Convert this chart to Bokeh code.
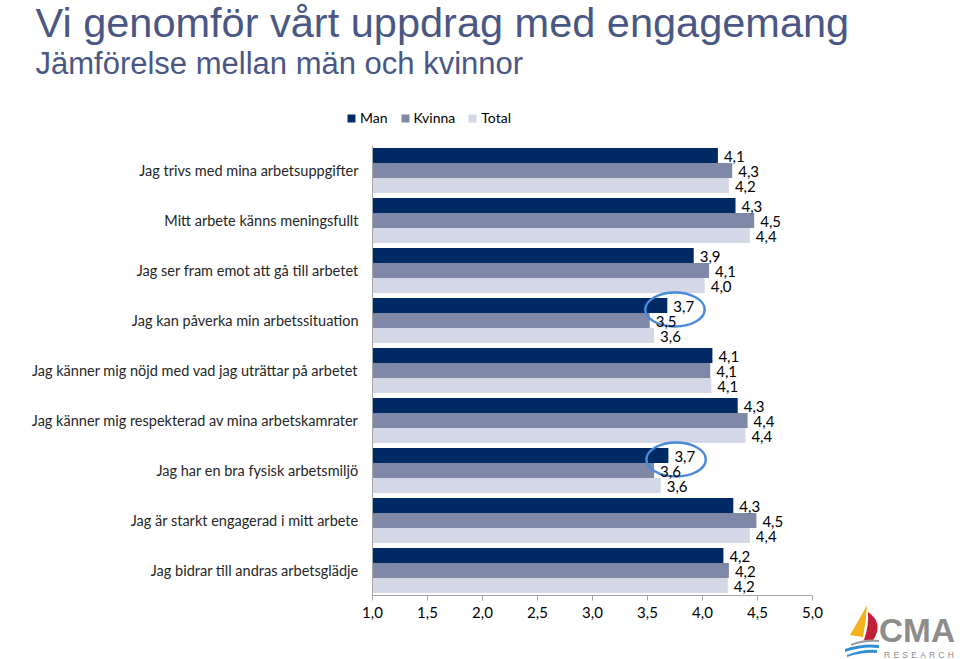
from bokeh.plotting import figure
from bokeh.layouts import column, row
from bokeh.models import (FactorRange, Range1d, FixedTicker, Legend, LegendItem, Label,
                          ColumnDataSource, Div)
from bokeh.transform import dodge
from bokeh.core.properties import value
from bokeh.embed import file_html
from bokeh.resources import INLINE

# ---------------- data ----------------
categories = [
    "Jag trivs med mina arbetsuppgifter",
    "Mitt arbete känns meningsfullt",
    "Jag ser fram emot att gå till arbetet",
    "Jag kan påverka min arbetssituation",
    "Jag känner mig nöjd med vad jag uträttar på arbetet",
    "Jag känner mig respekterad av mina arbetskamrater",
    "Jag har en bra fysisk arbetsmiljö",
    "Jag är starkt engagerad i mitt arbete",
    "Jag bidrar till andras arbetsglädje",
]
man = [4.14, 4.30, 3.92, 3.68, 4.09, 4.32, 3.69, 4.28, 4.19]
kvinna = [4.27, 4.47, 4.06, 3.52, 4.07, 4.41, 3.56, 4.49, 4.24]
total = [4.24, 4.43, 4.02, 3.56, 4.08, 4.39, 3.62, 4.43, 4.23]
series_names = ["Man", "Kvinna", "Total"]
highlighted = ["Jag kan påverka min arbetssituation", "Jag har en bra fysisk arbetsmiljö"]
x_ticks = [1.0, 1.5, 2.0, 2.5, 3.0, 3.5, 4.0, 4.5, 5.0]

title_text = "Vi genomför vårt uppdrag med engagemang"
subtitle_text = "Jämförelse mellan män och kvinnor"
logo_name = "CMA"
logo_sub = "RESEARCH"

# ---------------- style ----------------
colors = ["#002a64", "#7f88a6", "#d4d8e6"]
offsets = [0.3, 0.0, -0.3]
FONT = "Lato"
TITLE_COLOR = "#4a5785"


def fmt(v):
    return ("%.1f" % v).replace(".", ",")


def bare(fig, bg="white"):
    fig.outline_line_color = None
    fig.min_border = 0
    fig.background_fill_color = bg
    fig.border_fill_color = bg
    fig.xgrid.visible = False
    fig.ygrid.visible = False
    return fig


# ---------------- header (title, subtitle, legend) ----------------
head = bare(figure(width=960, height=135, output_backend="svg", toolbar_location=None,
                   title=None, x_range=Range1d(0, 960), y_range=Range1d(0, 135),
                   x_axis_type=None, y_axis_type=None))
head.add_layout(Label(x=35, y=135 - 22, text=title_text, text_font="Liberation Sans",
                      text_font_size="41.5px", text_color=TITLE_COLOR,
                      text_baseline="middle"))
head.add_layout(Label(x=35, y=135 - 63, text=subtitle_text, text_font="Liberation Sans",
                      text_font_size="31px", text_color=TITLE_COLOR,
                      text_baseline="middle"))
leg_items = []
for name, col in zip(series_names, colors):
    r = head.rect(x=[-500], y=[-500], width=1, height=1, fill_color=col, line_color=None)
    leg_items.append(LegendItem(label=name, renderers=[r]))
legend = Legend(items=leg_items, orientation="horizontal", location=(346, 9),
                label_text_font=FONT, label_text_font_size="14px", label_text_color="#000000",
                glyph_width=10, glyph_height=10, label_standoff=4, spacing=12,
                padding=0, margin=0, border_line_color=None, background_fill_alpha=0,
                label_height=16)
head.add_layout(legend, "center")

# ---------------- main chart ----------------
src = ColumnDataSource(dict(
    cat=categories,
    Man=man, Kvinna=kvinna, Total=total,
    Man_l=[fmt(v) for v in man],
    Kvinna_l=[fmt(v) for v in kvinna],
    Total_l=[fmt(v) for v in total],
))

p = figure(width=840, height=524, output_backend="svg", toolbar_location=None,
           y_range=FactorRange(factors=categories[::-1], range_padding=0),
           x_range=Range1d(1.0, 5.0),
           min_border_left=372, min_border_right=28, min_border_top=10, min_border_bottom=64)
p.outline_line_color = None
p.xgrid.visible = False
p.ygrid.visible = False
p.background_fill_color = "white"
p.border_fill_color = "white"

for name, col, off in zip(series_names, colors, offsets):
    p.hbar(y=dodge("cat", off, range=p.y_range), left=1.0, right=name, height=0.3,
           source=src, fill_color=col, line_color=None)

hl_idx = [categories.index(c) for c in highlighted]
ell_src = ColumnDataSource(dict(
    cat=[categories[i] for i in hl_idx],
    x=[man[i] + 0.07 for i in hl_idx],
))
p.ellipse(x="x", y=dodge("cat", 0.22, range=p.y_range), width=0.54, height=0.68,
          source=ell_src, fill_color=None, line_color="#4a8ad8", line_width=2.5)

for name, off in zip(series_names, offsets):
    p.text(x=name, y=dodge("cat", off, range=p.y_range), text=name + "_l", source=src,
           x_offset=6, y_offset=1, text_align="left", text_baseline="middle",
           text_font=value(FONT), text_font_size="15px", text_color="#000000")

p.xaxis.ticker = FixedTicker(ticks=x_ticks)
p.xaxis.major_label_overrides = {t: fmt(t) for t in x_ticks}
p.xaxis.axis_line_color = "#a6a6a6"
p.xaxis.major_tick_line_color = "#a6a6a6"
p.xaxis.major_tick_out = 5
p.xaxis.major_tick_in = 0
p.xaxis.minor_tick_line_color = None
p.xaxis.major_label_text_font = FONT
p.xaxis.major_label_text_font_size = "15px"
p.xaxis.major_label_text_color = "#000000"
p.xaxis.major_label_standoff = 6

p.yaxis.axis_line_color = "#a6a6a6"
p.yaxis.major_tick_out = 0
p.yaxis.major_tick_in = 0
p.yaxis.major_label_text_font = FONT
p.yaxis.major_label_text_font_size = "14.5px"
p.yaxis.major_label_text_color = "#262626"
p.yaxis.major_label_standoff = 14

# ---------------- logo (inline SVG, page-pixel coordinates via viewBox) ----------------
logo_svg = (
    '<svg xmlns="http://www.w3.org/2000/svg" width="120" height="524" '
    'viewBox="840 135 120 524" style="display:block">'
    '<path d="M850,635 Q860,618 867,605 Q866,622 863,637 Z" fill="#f2b21c"/>'
    '<path d="M868,612 Q880,620 877,632 Q875,638 873,640 L864,640 Q869,626 868,612 Z" '
    'fill="#c0203a"/>'
    '<path d="M851,644 Q865,638 879,640 L879,642 Q865,641 851,646 Z" fill="#9a9a9a"/>'
    '<path d="M845,649 Q862,643 879,645 L879,648 Q862,646 845,652 Z" fill="#2f8fd0"/>'
    '<path d="M847,655 Q862,649 877,650 L877,653 Q862,652 847,657 Z" fill="#2f8fd0"/>'
    '<text x="879" y="642" font-family="Liberation Sans" font-weight="bold" font-size="34" '
    'fill="#8c8c8c" textLength="76" lengthAdjust="spacingAndGlyphs">' + logo_name + '</text>'
    '<text x="884" y="657.5" font-family="Liberation Sans" font-size="8.5" fill="#8c8c8c" '
    'textLength="70" lengthAdjust="spacing">' + logo_sub + '</text>'
    '</svg>'
)
logo = Div(text=logo_svg, width=120, height=524, margin=0)

layout = column(head, row(p, logo, spacing=0), spacing=0)
open("out.html", "w").write(file_html(layout, INLINE))
